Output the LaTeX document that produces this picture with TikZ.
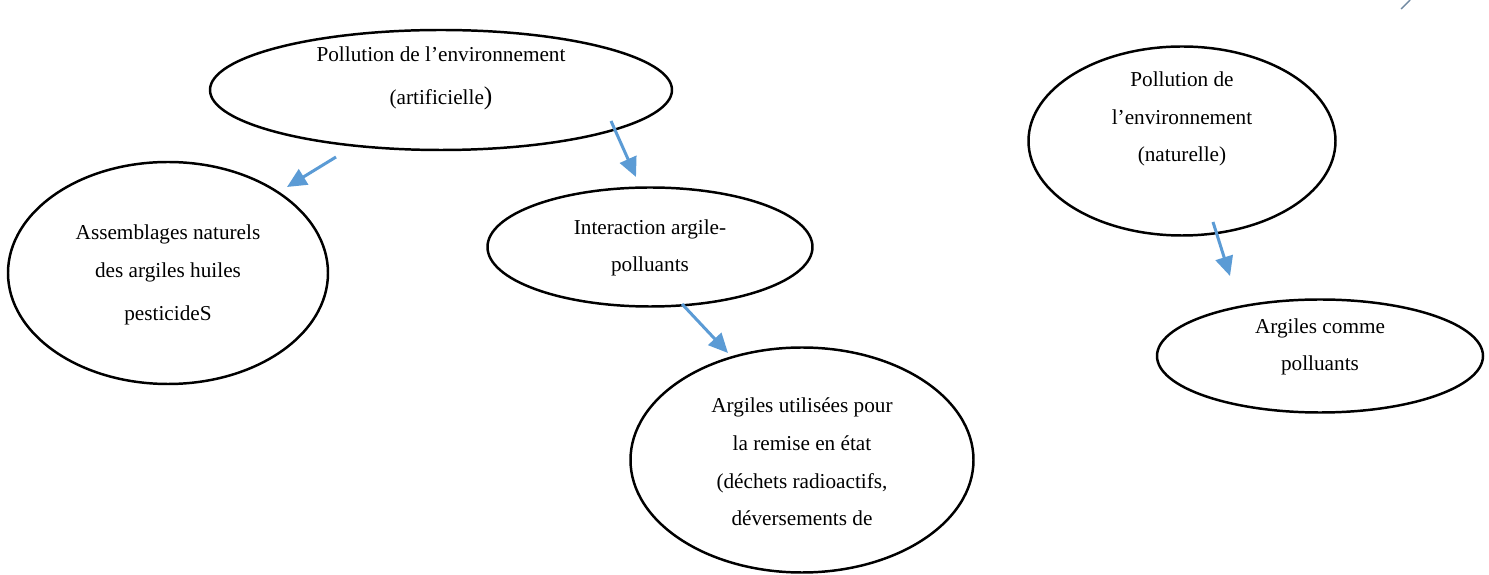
\documentclass[tikz,border=0pt]{standalone}
\usepackage{fontspec}
\setmainfont{Liberation Serif}
\usepackage{tikz}
\usetikzlibrary{
	shapes.geometric,
	arrows.meta,
	positioning
}
\definecolor{arrowblue}{HTML}{5B9BD5}

\begin{document}
\begin{tikzpicture}[
				x=0.565pt, y=-0.565pt,
				blob/.style={
					ellipse, draw, line width=1.4pt, inner sep=0pt
				},
				txt/.style={
					align=center, font=\fontsize{12pt}{21.3pt}\selectfont
				},
				arrow/.style={
					-{Triangle[length=11pt, width=10pt]}, line width=1.7pt, arrowblue
				},
				]
				\useasboundingbox (0,0) rectangle (1489,575);
				
				%first set
				\node[blob, minimum width=462*0.565pt, minimum height=120*0.565pt] (artif) at (441,90) {};
				\node[txt, font=\fontsize{12pt}{24.3pt}\selectfont] (artiftxt) at (441,78) {Pollution de l’environnement\\(artificielle{\Large)}};
				
				\node[blob, minimum width=320*0.565pt, minimum height=222*0.565pt] (assemb) at (168,273) {};
				\node[txt] (assembtxt) at (168,275) {Assemblages naturels\\des argiles huiles\\[3pt]pesticideS};
				
				\node[blob, minimum width=325*0.565pt, minimum height=119*0.565pt] (inter) at (650,247) {};
				\node[txt] (intertxt) at (650,248) {Interaction argile-\\polluants};
				
				%2. set
				\node[blob, minimum width=343*0.565pt, minimum height=225*0.565pt] (remise) at (802,460) {};
				\node[txt] (remisetxt) at (802,462) {Argiles utilisées pour\\la remise en état\\(déchets radioactifs,\\déversements de};
				
				%3. set
				\node[blob, minimum width=307*0.565pt, minimum height=189*0.565pt] (nat) at (1182,141) {};
				\node[txt] (nattxt) at (1182,119) {Pollution de\\l’environnement\\(naturelle)};
				
				\node[blob, minimum width=326*0.565pt, minimum height=113*0.565pt] (comme) at (1320,356) {};
				\node[txt] (commetxt) at (1320,347) {Argiles comme\\polluants};
				
				%arrows
				\coordinate (a1s) at (336,157);
				\coordinate (a1e) at (287,187);
				\draw[arrow] (a1s) -- (a1e);
				
				\coordinate (a2s) at (611,121);
				\coordinate (a2e) at (636,177);
				\draw[arrow] (a2s) -- (a2e);
				
				\coordinate (a3s) at (682,304);
				\coordinate (a3e) at (728,353);
				\draw[arrow] (a3s) -- (a3e);
				
				\coordinate (a4s) at (1213,222);
				\coordinate (a4e) at (1230,276);
				\draw[arrow] (a4s) -- (a4e);
				
				%corner mark
				\coordinate (cms) at (1401,9);
				\coordinate (cme) at (1410,0);
				\draw[line width=0.8pt, gray!60!arrowblue] (cms) -- (cme);
			\end{tikzpicture}
\end{document}
